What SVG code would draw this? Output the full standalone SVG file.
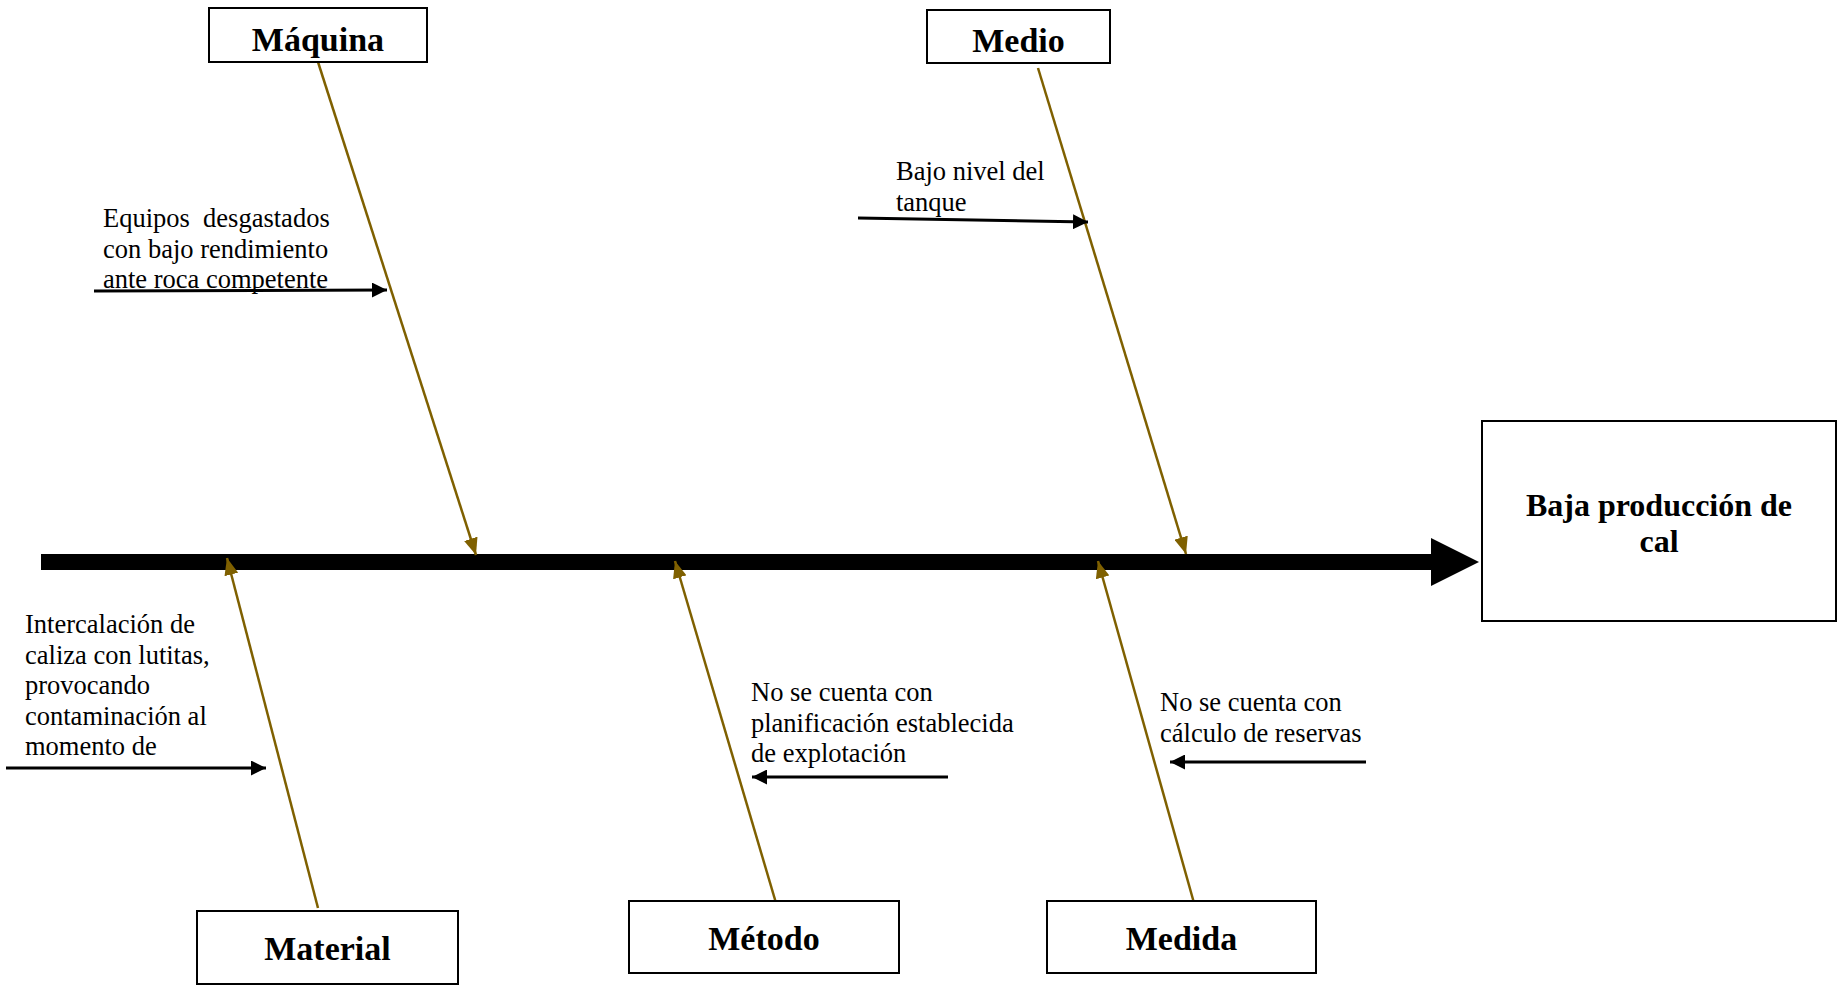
<svg xmlns="http://www.w3.org/2000/svg" width="1842" height="986" viewBox="0 0 1842 986">
  <style>
    .box { fill: #ffffff; stroke: #000000; stroke-width: 2; }
    .label { font-family: "Liberation Serif", "Times New Roman", serif; font-weight: bold; font-size: 34px; fill: #000; text-anchor: middle; }
    .effect { font-family: "Liberation Serif", "Times New Roman", serif; font-weight: bold; font-size: 32px; fill: #000; text-anchor: middle; }
    .cause { font-family: "Liberation Serif", "Times New Roman", serif; font-size: 26.5px; fill: #000; white-space: pre; }
    .bone { stroke: #7f6000; stroke-width: 2.5; fill: none; marker-end: url(#brownHead); }
    .sub { stroke: #000000; stroke-width: 3; fill: none; marker-end: url(#blackHead); }
  </style>
  <defs>
    <marker id="brownHead" markerUnits="userSpaceOnUse" markerWidth="17" markerHeight="14" refX="17" refY="7" orient="auto">
      <path d="M0,0 L17,7 L0,14 z" fill="#7f6000"/>
    </marker>
    <marker id="blackHead" markerUnits="userSpaceOnUse" markerWidth="15" markerHeight="15" refX="15" refY="7.5" orient="auto">
      <path d="M0,0 L15,7.5 L0,15 z" fill="#000000"/>
    </marker>
  </defs>

  <rect width="1842" height="986" fill="#ffffff"/>

  <!-- connectors: spine, category bones and cause arrows -->
  <g id="connectors">
    <rect x="41" y="554" width="1391" height="16" fill="#000000"/>
    <polygon points="1431,538 1479,562 1431,586" fill="#000000"/>

    <line class="bone" x1="318" y1="62" x2="476" y2="555"/>
    <line class="bone" x1="1038" y1="68" x2="1186" y2="554"/>
    <line class="bone" x1="318" y1="908" x2="227" y2="558"/>
    <line class="bone" x1="776" y1="903" x2="675" y2="561"/>
    <line class="bone" x1="1194" y1="903" x2="1098" y2="561"/>

    <line class="sub" x1="94" y1="291" x2="387" y2="290"/>
    <line class="sub" x1="858" y1="218" x2="1088" y2="222"/>
    <line class="sub" x1="6" y1="768" x2="266" y2="768"/>
    <line class="sub" x1="948" y1="777" x2="752" y2="777"/>
    <line class="sub" x1="1366" y1="762" x2="1170" y2="762"/>
  </g>

  <g id="effect">
    <rect class="box" x="1482" y="421" width="354" height="200"/>
    <text class="effect" x="1659" y="516">Baja producción de</text>
    <text class="effect" x="1659" y="552">cal</text>
  </g>

  <g id="maquina">
    <rect class="box" x="209" y="8" width="218" height="54"/>
    <text class="label" x="318" y="51">Máquina</text>
  </g>

  <g id="medio">
    <rect class="box" x="927" y="10" width="183" height="53"/>
    <text class="label" x="1018.5" y="52">Medio</text>
  </g>

  <g id="material">
    <rect class="box" x="197" y="911" width="261" height="73"/>
    <text class="label" x="327.5" y="960">Material</text>
  </g>

  <g id="metodo">
    <rect class="box" x="629" y="901" width="270" height="72"/>
    <text class="label" x="764" y="950">Método</text>
  </g>

  <g id="medida">
    <rect class="box" x="1047" y="901" width="269" height="72"/>
    <text class="label" x="1181.5" y="950">Medida</text>
  </g>

  <g id="cause-maquina">
    <text class="cause" x="103" y="227">Equipos  desgastados</text>
    <text class="cause" x="103" y="257.5">con bajo rendimiento</text>
    <text class="cause" x="103" y="288">ante roca competente</text>
  </g>

  <g id="cause-medio">
    <text class="cause" x="896" y="180">Bajo nivel del</text>
    <text class="cause" x="896" y="210.5">tanque</text>
  </g>

  <g id="cause-material">
    <text class="cause" x="25" y="633">Intercalación de</text>
    <text class="cause" x="25" y="663.5">caliza con lutitas,</text>
    <text class="cause" x="25" y="694">provocando</text>
    <text class="cause" x="25" y="724.5">contaminación al</text>
    <text class="cause" x="25" y="755">momento de</text>
  </g>

  <g id="cause-metodo">
    <text class="cause" x="751" y="701">No se cuenta con</text>
    <text class="cause" x="751" y="731.5">planificación establecida</text>
    <text class="cause" x="751" y="762">de explotación</text>
  </g>

  <g id="cause-medida">
    <text class="cause" x="1160" y="711">No se cuenta con</text>
    <text class="cause" x="1160" y="741.5">cálculo de reservas</text>
  </g>
</svg>
